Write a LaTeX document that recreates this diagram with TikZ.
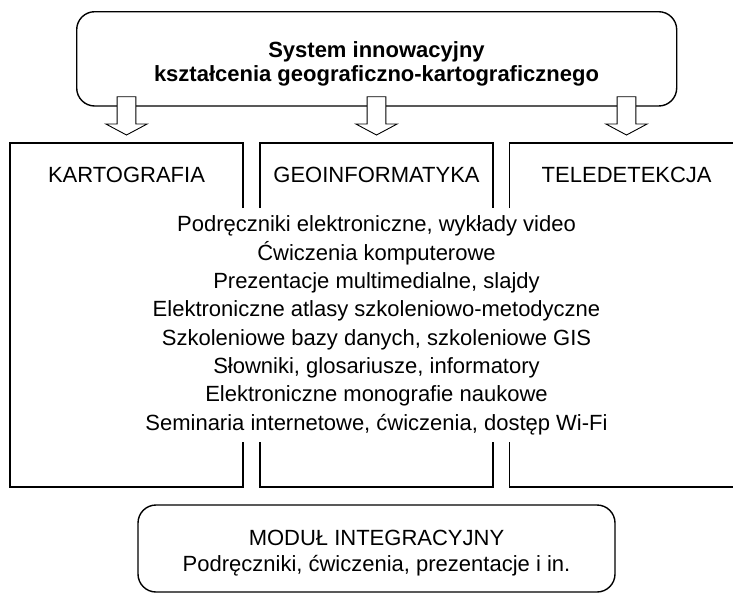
\documentclass[tikz,border=0pt]{standalone}
\usepackage{fontspec}
\setmainfont{Liberation Sans}
\usetikzlibrary{positioning}

\begin{document}
\begin{tikzpicture}[
		x=1pt, y=-1pt,
		ramka/.style = {line width=1.4pt},
		blok/.style = {draw, line width=1.4pt, rounded corners=18pt, inner sep=0pt},
		napis/.style = {anchor=base, inner sep=0pt, font=\fontsize{22}{26}\selectfont},
		strzalka/.style = {draw, fill=white, line width=0.9pt, line join=miter},
	]
	\useasboundingbox (0,0) rectangle (733,595);
	% gorny blok
	\node[blok, minimum width=600pt, minimum height=94.3pt] (system) at (376.7,58.85) {};
	\node[napis, font=\bfseries\fontsize{22}{26}\selectfont] (sys1) at (376.5,57.3) {System innowacyjny};
	\node[napis, font=\bfseries\fontsize{22}{26}\selectfont] (sys2) at (376.5,81) {kształcenia geograficzno-kartograficznego};
	% kolumny
	\draw[ramka] (243,208) -- (243,143) -- (10,143) -- (10,487) -- (243,487) -- (243,442);
	\draw[ramka] (260,208) -- (260,143) -- (493,143) -- (493,208);
	\draw[ramka] (260,442) -- (260,487) -- (493,487) -- (493,442);
	\draw[ramka] (509.5,208) -- (509.5,143) -- (745,143) -- (745,487) -- (509.5,487) -- (509.5,442);
	% strzalki
	\foreach \x in {126.5,376.5,626.5}
		\draw[strzalka] (\x-9.35,96.7) -- ++(18.7,0) -- ++(0,27.3) -- ++(11.25,0) -- (\x,135) -- (\x-20.6,124) -- ++(11.25,0) -- cycle;
	\node[napis] (karto) at (126.5,182.7) {KARTOGRAFIA};
	\node[napis] (geoinf) at (376.5,182.7) {GEOINFORMATYKA};
	\node[napis] (telede) at (626.7,182.7) {TELEDETEKCJA};
	% lista
	\foreach \t [count=\i] in {Podręczniki elektroniczne{,} wykłady video,
			Ćwiczenia komputerowe,
			Prezentacje multimedialne{,} slajdy,
			Elektroniczne atlasy szkoleniowo-metodyczne,
			Szkoleniowe bazy danych{,} szkoleniowe GIS,
			Słowniki{,} glosariusze{,} informatory,
			Elektroniczne monografie naukowe,
			Seminaria internetowe{,} ćwiczenia{,} dostęp Wi-Fi}
		\node[napis] (lista\i) at (376.5,231.7+28.33*\i-28.33) {\t};
	% dolny blok
	\node[blok, minimum width=477pt, minimum height=87pt] (modul) at (376.5,548.5) {};
	\node[napis] (mod1) at (376.5,545) {MODUŁ INTEGRACYJNY};
	\node[napis] (mod2) at (376.5,571) {Podręczniki, ćwiczenia, prezentacje i in.};
\end{tikzpicture}
\end{document}
